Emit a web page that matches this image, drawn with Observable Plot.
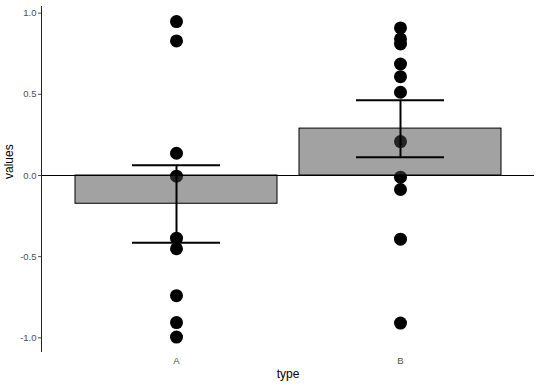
<!DOCTYPE html>
<html>
<head>
<meta charset="utf-8">
<script src="https://cdn.jsdelivr.net/npm/d3@7"></script>
<script src="https://cdn.jsdelivr.net/npm/@observablehq/plot@0.6"></script>
<style>
  html, body { margin: 0; padding: 0; background: #fff; }
  #chart svg { display: block; }
</style>
</head>
<body>
<div id="chart"></div>
<script>
const categories = ["A", "B"];
const pointsA = [0.948, 0.829, 0.137, -0.004, -0.386, -0.451, -0.740, -0.906, -0.995];
const pointsB = [0.909, 0.841, 0.810, 0.687, 0.609, 0.513, 0.209, -0.010, -0.086, -0.392, -0.909];
const means = [-0.174, 0.289];
const errLow = [-0.414, 0.113];
const errHigh = [0.063, 0.463];
const yTicks = [-1, -0.5, 0, 0.5, 1];
const xTitle = "type";
const yTitle = "values";

const points = [
  ...pointsA.map(v => ({type: "A", value: v})),
  ...pointsB.map(v => ({type: "B", value: v}))
];
const summary = categories.map((c, i) => ({type: c, mean: means[i], low: errLow[i], high: errHigh[i]}));
const caps = summary.flatMap(d => [{type: d.type, v: d.low}, {type: d.type, v: d.high}]);

const font = "'Liberation Sans', Arial, sans-serif";

const chart = Plot.plot({
  width: 540,
  height: 386,
  marginLeft: 41,
  marginRight: 6,
  marginTop: 6,
  marginBottom: 35,
  style: {fontFamily: font, background: "#fff"},
  x: {domain: categories, paddingInner: 0.1, paddingOuter: 0.15, axis: null},
  y: {domain: [-1.084, 1.041], axis: null},
  marks: [
    Plot.dot(points, {x: "type", y: "value", r: 6.5, fill: "black", stroke: "none"}),
    Plot.barY(summary, {x: "type", y: "mean", fill: "#454545", fillOpacity: 0.5, stroke: "black", strokeWidth: 1}),
    Plot.ruleY([0], {stroke: "black", strokeWidth: 1}),
    Plot.ruleX(summary, {x: "type", y1: "low", y2: "high", stroke: "black", strokeWidth: 2}),
    Plot.tickY(caps, {x: "type", y: "v", stroke: "black", strokeWidth: 2, insetLeft: 57, insetRight: 57}),
    Plot.frame({anchor: "left", stroke: "#222", strokeWidth: 1}),
    Plot.axisY({ticks: yTicks, tickFormat: d => d.toFixed(1), tickSize: 3, tickPadding: 2, fontSize: 9.5, color: "#4d4d4d", label: null}),
    Plot.axisX({tickSize: 0, tickPadding: 6, fontSize: 9.5, color: "#4d4d4d", label: null}),
    Plot.text([xTitle], {frameAnchor: "bottom", dy: 26, text: d => d, fontSize: 12, fill: "black"}),
    Plot.text([yTitle], {frameAnchor: "left", dx: -32, rotate: -90, text: d => d, fontSize: 12, fill: "black"})
  ]
});
document.getElementById("chart").appendChild(chart);
</script>
</body>
</html>
